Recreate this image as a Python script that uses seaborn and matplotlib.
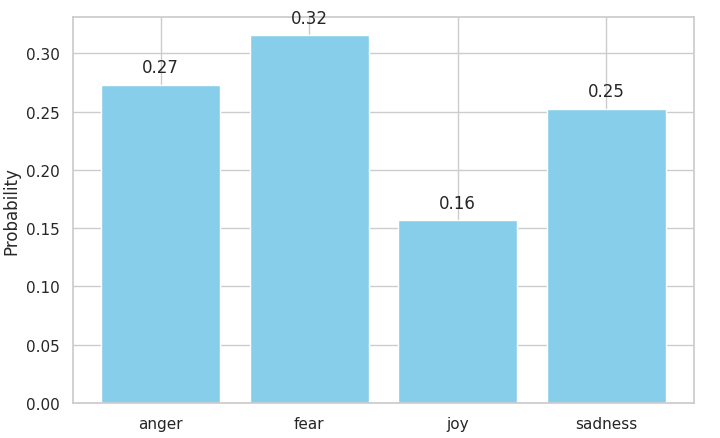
"""Emotion probability bar chart."""

import matplotlib

matplotlib.use("Agg")

import matplotlib.pyplot as plt  # noqa: E402
import pandas as pd  # noqa: E402
import seaborn as sns  # noqa: E402

# Data
emotions = ["anger", "fear", "joy", "sadness"]
probabilities = [0.2728, 0.3155, 0.1568, 0.2523]

df = pd.DataFrame({"emotion": emotions, "probability": probabilities})

sns.set_theme(style="whitegrid", context="notebook")

fig, ax = plt.subplots(figsize=(7.2, 4.39), dpi=100)
fig.subplots_adjust(left=73 / 720, right=694 / 720, top=1 - 18 / 439, bottom=1 - 404 / 439)

sns.barplot(data=df, x="emotion", y="probability", color="skyblue", saturation=1, ax=ax)

# Match matplotlib's default categorical margins and keep vertical grid lines
ax.set_xlim(-0.59, 3.59)
ax.set_ylim(0, max(probabilities) * 1.05)
ax.grid(True, axis="both")

# Value labels above each bar
for i, p in enumerate(probabilities):
    ax.text(i, p + 0.0075, f"{p:.2f}", ha="center", va="bottom", fontsize=12, color=".15")

ax.set_xlabel("")
ax.set_ylabel("Probability")

fig.savefig("out.png", dpi=100)
plt.close(fig)
